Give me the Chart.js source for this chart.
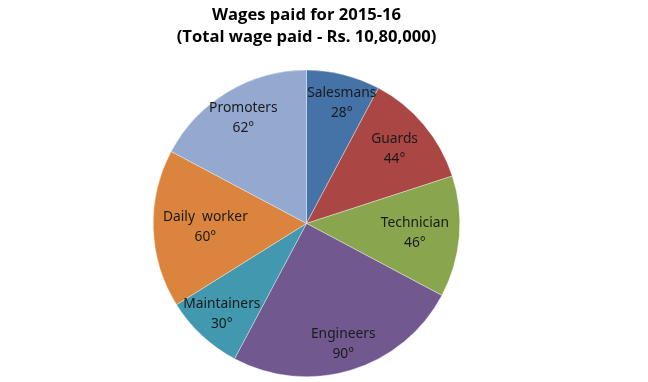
<!DOCTYPE html>
<html>
<head>
<meta charset="utf-8">
<script src="https://cdn.jsdelivr.net/npm/chart.js@4/dist/chart.umd.min.js"></script>
<style>
  html, body { margin: 0; padding: 0; background: #fff; }
  #wrap { width: 648px; height: 382px; }
</style>
</head>
<body>
<div id="wrap"><canvas id="wages"></canvas></div>
<script>
const categories = ["Salesmans", "Guards", "Technician", "Engineers", "Maintainers", "Daily  worker", "Promoters"];
const degrees = [28, 44, 46, 90, 30, 60, 62];
const titleLines = ["Wages paid for 2015-16", "(Total wage paid - Rs. 10,80,000)"];

const sliceColors = ["#4572A7", "#AA4643", "#89A54E", "#71588F", "#4198AF", "#DB843D", "#93A9CF"];
// how far out (fraction of radius) each label sits, like Excel's best fit
const labelRadius = [0.82, 0.75, 0.71, 0.82, 0.81, 0.66, 0.8];

const sliceLabels = {
  id: "sliceLabels",
  afterDatasetsDraw(chart) {
    const { ctx } = chart;
    const arcs = chart.getDatasetMeta(0).data;
    ctx.save();
    ctx.font = "13.8px 'Noto Sans', sans-serif";
    ctx.fillStyle = "#1a1a1a";
    ctx.textAlign = "center";
    ctx.textBaseline = "middle";
    arcs.forEach((arc, i) => {
      const mid = (arc.startAngle + arc.endAngle) / 2 + (i === 0 ? 0.04 : 0);
      const r = arc.outerRadius * labelRadius[i];
      const x = arc.x + Math.cos(mid) * r;
      const y = arc.y + Math.sin(mid) * r;
      ctx.fillText(categories[i], x, y - 10);
      ctx.fillText(degrees[i] + "\u00B0", x, y + 10);
    });
    ctx.restore();
  },
};

new Chart(document.getElementById("wages"), {
  type: "pie",
  data: {
    labels: categories,
    datasets: [
      {
        data: degrees,
        backgroundColor: sliceColors,
        borderColor: "rgba(255,255,255,0.6)",
        borderWidth: 0.6,
      },
    ],
  },
  options: {
    responsive: true,
    maintainAspectRatio: false,
    animation: false,
    layout: { padding: { top: 0, bottom: 5, left: 0, right: 35 } },
    plugins: {
      legend: { display: false },
      tooltip: { enabled: false },
      title: {
        display: true,
        text: titleLines,
        color: "#000",
        font: { family: "'Open Sans', sans-serif", size: 16.6, weight: "bold", lineHeight: 1.35 },
        padding: { top: 4, bottom: 21 },
      },
    },
  },
  plugins: [sliceLabels],
});
</script>
</body>
</html>
